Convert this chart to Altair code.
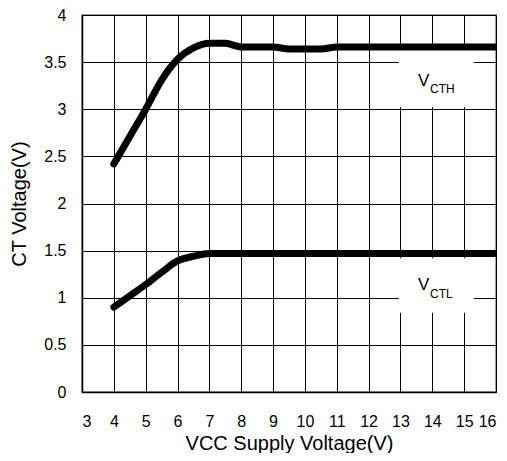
import altair as alt
import pandas as pd

vcc = [4, 4.5, 5, 5.5, 6, 6.5, 7, 7.5, 8, 8.5, 9, 9.5, 10, 10.5, 11, 12, 13, 14, 15, 16]
vcth = [2.42, 2.71, 3.00, 3.31, 3.53, 3.65, 3.70, 3.70, 3.66, 3.66, 3.66, 3.64, 3.64, 3.64, 3.66, 3.66, 3.66, 3.66, 3.66, 3.66]
vctl = [0.90, 1.02, 1.14, 1.27, 1.39, 1.44, 1.47, 1.47, 1.47, 1.47, 1.47, 1.47, 1.47, 1.47, 1.47, 1.47, 1.47, 1.47, 1.47, 1.47]

x_ticks = list(range(3, 17))
y_ticks = [0, 0.5, 1, 1.5, 2, 2.5, 3, 3.5, 4]

label_main = ["V", "V"]
label_sub = ["CTH", "CTL"]
label_x = [13.55, 13.55]
label_sub_x = [13.93, 13.93]
label_y = [3.305, 1.135]
label_sub_y = [3.22, 1.045]
box_x = [12.95, 12.95]
box_x2 = [15.3, 15.3]
box_y = [3.02, 0.84]
box_y2 = [3.63, 1.42]

FONT = "Liberation Sans"

df = pd.DataFrame({
    "vcc": vcc * 2,
    "v": vcth + vctl,
    "series": ["VCTH"] * len(vcc) + ["VCTL"] * len(vcc),
})
labels = pd.DataFrame({
    "main": label_main, "sub": label_sub,
    "lx": label_x, "sx": label_sub_x, "ly": label_y, "sy": label_sub_y,
    "bx": box_x, "bx2": box_x2, "by": box_y, "by2": box_y2,
})

xscale = alt.Scale(domain=[3, 16], nice=False, zero=False)
yscale = alt.Scale(domain=[0, 4], nice=False)

xaxis = alt.Axis(values=x_ticks, title="VCC Supply Voltage(V)", grid=True,
                 labelExpr="'' + datum.value", labelOverlap=False)
yaxis = alt.Axis(values=y_ticks, title="CT Voltage(V)", grid=True,
                 labelExpr="'' + datum.value", labelOverlap=False)

boxes = alt.Chart(labels).mark_rect(color="white").encode(
    x=alt.X("bx:Q", scale=xscale, axis=xaxis), x2="bx2:Q",
    y=alt.Y("by:Q", scale=yscale, axis=yaxis), y2="by2:Q",
)

lines = alt.Chart(df).mark_line(
    color="black", strokeWidth=7, strokeCap="round", strokeJoin="round",
    interpolate="monotone", clip=True
).encode(
    x=alt.X("vcc:Q", scale=xscale, axis=xaxis),
    y=alt.Y("v:Q", scale=yscale, axis=yaxis),
    detail="series:N",
)

main_text = alt.Chart(labels).mark_text(
    font=FONT, fontSize=17, align="left", baseline="middle", color="black"
).encode(
    x=alt.X("lx:Q", scale=xscale, axis=xaxis),
    y=alt.Y("ly:Q", scale=yscale, axis=yaxis),
    text="main:N"
)

sub_text = alt.Chart(labels).mark_text(
    font=FONT, fontSize=12, align="left", baseline="middle", color="black"
).encode(
    x=alt.X("sx:Q", scale=xscale, axis=xaxis),
    y=alt.Y("sy:Q", scale=yscale, axis=yaxis),
    text="sub:N"
)

chart = alt.layer(boxes, lines, main_text, sub_text).properties(
    width=414, height=377,
    autosize=alt.AutoSizeParams(type="none"),
    padding={"left": 74, "top": 7, "right": 3, "bottom": 61},
    background="white",
).configure_view(
    stroke="#a0a0a0", strokeWidth=2
).configure_axis(
    gridColor="black", gridWidth=1, gridOpacity=1,
    domainColor="black", domainWidth=1.5,
    ticks=False,
    labelFont=FONT, labelFontSize=16, labelColor="black",
    titleFont=FONT, titleFontSize=20, titleFontWeight="normal", titleColor="black",
).configure_axisX(
    labelPadding=21, titlePadding=4,
).configure_axisY(
    labelPadding=16, titlePadding=14,
)

chart.save("out.html", embed_options={"renderer": "svg", "actions": False})
